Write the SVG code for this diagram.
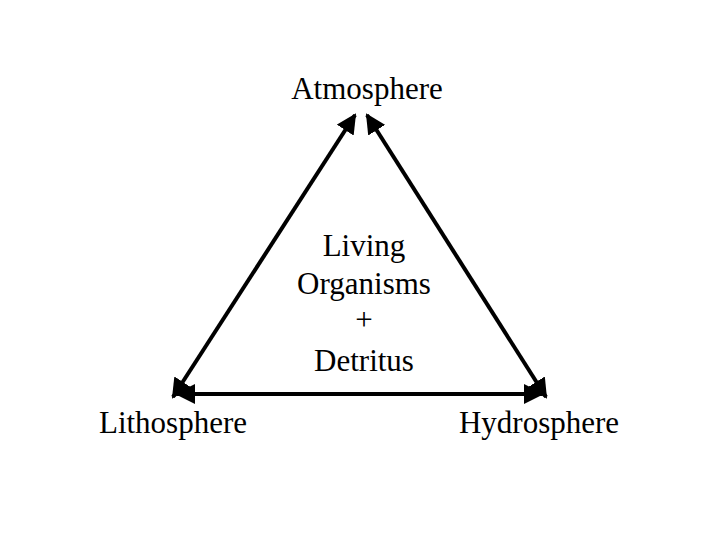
<svg xmlns="http://www.w3.org/2000/svg" width="720" height="540" viewBox="0 0 720 540">
<style>
text{font-family:"Liberation Serif","Times New Roman",serif;font-size:31px;fill:#000;text-anchor:middle}
.c{stroke:#000;stroke-width:4;fill:none;marker-start:url(#a);marker-end:url(#a)}
</style>
<defs><marker id="a" viewBox="0 0 10 10" refX="9" refY="5" markerWidth="5" markerHeight="5" orient="auto-start-reverse" markerUnits="strokeWidth"><path d="M0,0L10,5L0,10z" fill="#000"/></marker></defs>
<rect width="720" height="540" fill="#fff"/>
<g id="connectors">
<line class="c" x1="355" y1="115" x2="173" y2="397"/>
<line class="c" x1="367" y1="115" x2="546" y2="397"/>
<line class="c" x1="177" y1="394" x2="542" y2="394"/>
</g>
<g id="atmosphere"><text x="367" y="99">Atmosphere</text></g>
<g id="living"><text x="364" y="256">Living</text><text x="364" y="294">Organisms</text><text x="364" y="330">+</text><text x="364" y="371">Detritus</text></g>
<g id="lithosphere"><text x="173" y="433">Lithosphere</text></g>
<g id="hydrosphere"><text x="539" y="433">Hydrosphere</text></g>
</svg>
